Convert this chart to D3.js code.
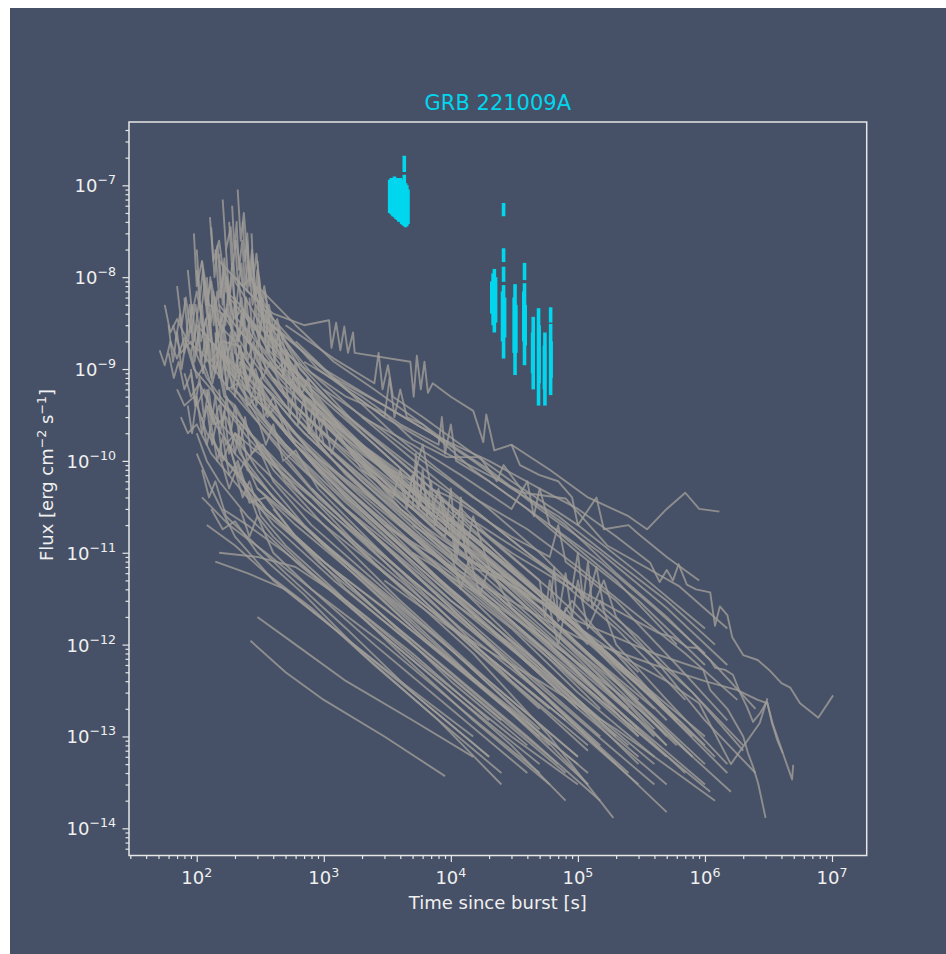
<!DOCTYPE html>
<html>
<head>
<meta charset="utf-8">
<script src="https://cdn.jsdelivr.net/npm/d3@7"></script>
<style>
  html, body { margin: 0; padding: 0; background: #fff; overflow: hidden; }
  #vis { width: 946px; height: 954px; }
  #vis svg { display: block; }
</style>
</head>
<body>
<div id="vis"></div>
<script>
// x-ray light curves of the comparison sample, points are [time since burst s, flux erg/cm2/s]
let brightCurves = [
  [[210,9e-8],[222,2.5e-8],[235,5e-8],[255,1.2e-8],[300,7e-9],[380,3e-9],[520,1.5e-9],[900,6e-10],[2000,2e-10],[6000,5e-11],[2e4,1.2e-11],[7e4,2.5e-12],[3e5,4e-13]],
  [[160,7e-8],[170,2e-8],[185,3.5e-8],[200,9e-9],[240,6e-9],[320,3e-9],[600,8e-10],[1500,2e-10],[5000,4e-11],[2e4,8e-12],[1e5,1e-12],[4e5,2e-13]],
  [[127,4.5e-8],[135,1.5e-8],[150,2.5e-8],[170,7e-9],[220,5e-9],[350,1.8e-9],[700,5e-10],[2500,8e-11],[1e4,1.5e-11],[5e4,2.5e-12],[2e5,4e-13],[8e5,6e-14]],
  [[95,3e-8],[100,8e-9],[110,1.5e-8],[125,5e-9],[160,4e-9],[250,1.5e-9],[500,4e-10],[1500,7e-11],[6000,1.2e-11],[3e4,1.8e-12],[1.5e5,2.5e-13]],
  [[270,3e-8],[280,1e-8],[295,1.8e-8],[320,6e-9],[380,4e-9],[500,2e-9],[800,9e-10],[2000,3e-10],[8000,6e-11],[4e4,1e-11],[2e5,1.5e-12],[7e5,2.5e-13]],
  [[180,4e-8],[190,1.2e-8],[205,2.5e-8],[230,8e-9],[270,1e-8],[320,4e-9],[450,2.5e-9],[700,1e-9],[1800,2.5e-10],[7000,5e-11],[3e4,7e-12],[1.2e5,1e-12]],
  [[140,2e-8],[150,6e-9],[165,1.2e-8],[190,4e-9],[260,2.5e-9],[420,1e-9],[900,3e-10],[3000,5e-11],[1.2e4,8e-12],[5e4,1.5e-12],[2.5e5,2e-13]],
  [[110,1.5e-8],[118,5e-9],[130,9e-9],[150,3e-9],[200,2e-9],[300,8e-10],[600,2.5e-10],[2000,5e-11],[8000,1e-11],[4e4,1.5e-12],[2e5,2e-13],[1e6,3e-14]],
  [[240,2e-8],[250,7e-9],[262,1.3e-8],[290,5e-9],[340,3.5e-9],[480,1.2e-9],[900,4e-10],[2500,1e-10],[1e4,2e-11],[5e4,3e-12],[2.5e5,5e-13],[1e6,1e-13]],
  [[200,2.5e-8],[212,8e-9],[225,1.4e-8],[245,4e-9],[290,3e-9],[400,1.2e-9],[1000,3e-10],[4000,6e-11],[2e4,1e-11],[1e5,1.5e-12],[5e5,2e-13]],
  [[300,1.5e-8],[320,5e-9],[340,8e-9],[380,3e-9],[450,2.5e-9],[650,1e-9],[1200,4e-10],[4000,1e-10],[1.5e4,2e-11],[6e4,4e-12],[3e5,5e-13]],
  [[85,1.2e-8],[92,4e-9],[100,7e-9],[115,2.5e-9],[150,1.5e-9],[250,6e-10],[600,1.5e-10],[2000,3e-11],[8000,5e-12],[4e4,8e-13],[1.5e5,1.5e-13]],
  [[150,1.8e-8],[160,5e-9],[172,1e-8],[195,3.5e-9],[230,4.5e-9],[300,2e-9],[550,7e-10],[1200,2.5e-10],[5000,5e-11],[2.5e4,8e-12],[1.2e5,1.2e-12],[6e5,1.5e-13]],
  [[120,1e-8],[128,3e-9],[140,6e-9],[160,2e-9],[210,1.8e-9],[320,7e-10],[700,2e-10],[2500,4e-11],[1e4,7e-12],[6e4,1e-12],[3e5,1.2e-13]]
];

// flaring early light curves that fill the bright core
let flareCurves = [
  [[60,3e-9],[65,1.2e-9],[70,2.5e-9],[76,1e-9],[82,2e-9],[90,1.5e-9],[100,3e-9],[108,1.2e-9],[118,2.2e-9],[130,8e-10],[145,1.5e-9],[170,5e-10],[220,3e-10],[400,8e-11],[1000,2e-11],[4000,3e-12],[2e4,4e-13],[1e5,6e-14]],
  [[68,2e-9],[74,4e-9],[80,1.5e-9],[88,5e-9],[95,2e-9],[105,6e-9],[112,2.5e-9],[122,4e-9],[135,1.5e-9],[150,2.5e-9],[180,1e-9],[250,5e-10],[500,1.5e-10],[1500,3e-11],[6000,5e-12],[3e4,7e-13],[1.5e5,1e-13]],
  [[100,2e-8],[106,6e-9],[112,1.2e-8],[120,4e-9],[128,1e-8],[136,3e-9],[145,7e-9],[160,2.5e-9],[175,5e-9],[200,1.5e-9],[260,1e-9],[400,4e-10],[900,1e-10],[3000,2e-11],[1.2e4,3e-12],[6e4,4e-13],[3e5,6e-14]],
  [[130,3.5e-8],[138,1e-8],[146,2.2e-8],[155,6e-9],[165,1.6e-8],[178,5e-9],[190,1e-8],[205,3.5e-9],[225,6e-9],[250,2e-9],[300,1.5e-9],[450,6e-10],[1000,1.5e-10],[3000,4e-11],[1.2e4,7e-12],[5e4,1.2e-12],[2e5,2e-13]],
  [[190,6e-8],[198,2e-8],[206,4e-8],[215,1.2e-8],[228,2.5e-8],[240,8e-9],[255,1.5e-8],[275,5e-9],[300,8e-9],[340,3e-9],[420,2e-9],[700,7e-10],[1500,2e-10],[5000,4e-11],[2e4,6e-12],[1e5,8e-13],[4e5,1.2e-13]],
  [[230,4e-8],[240,1.5e-8],[250,3e-8],[262,8e-9],[275,1.8e-8],[290,6e-9],[310,1e-8],[335,3.5e-9],[370,5e-9],[420,2e-9],[600,1e-9],[1200,3e-10],[4000,6e-11],[1.5e4,1.2e-11],[6e4,2e-12],[3e5,2.5e-13]],
  [[250,2.5e-8],[260,1e-8],[272,2e-8],[285,6e-9],[300,1.2e-8],[320,4e-9],[345,7e-9],[380,2.5e-9],[430,3.5e-9],[520,1.2e-9],[800,5e-10],[2000,1.3e-10],[7000,2.5e-11],[3e4,4e-12],[1.5e5,5e-13],[6e5,8e-14]],
  [[80,6e-9],[86,2e-9],[92,5e-9],[100,1.5e-9],[108,4e-9],[118,1.2e-9],[128,3e-9],[140,9e-10],[155,2e-9],[175,6e-10],[210,7e-10],[300,3e-10],[700,8e-11],[2500,1.5e-11],[1e4,2.5e-12],[5e4,3e-13],[2e5,5e-14]],
  [[110,5e-9],[118,1.5e-9],[126,4e-9],[135,1e-9],[145,3e-9],[158,8e-10],[170,2e-9],[190,6e-10],[220,1.2e-9],[280,4e-10],[400,2e-10],[1000,5e-11],[4000,8e-12],[1.5e4,1.5e-12],[8e4,2e-13],[4e5,3e-14]],
  [[160,1e-8],[168,3e-9],[178,8e-9],[190,2.5e-9],[200,6e-9],[215,2e-9],[230,4e-9],[250,1.2e-9],[280,2e-9],[330,8e-10],[500,4e-10],[1200,1e-10],[4000,2e-11],[2e4,3e-12],[1e5,4e-13],[5e5,6e-14]],
  [[90,1e-9],[97,4e-10],[105,8e-10],[114,3e-10],[124,6e-10],[135,2.5e-10],[150,4e-10],[170,1.5e-10],[200,2e-10],[300,8e-11],[700,2e-11],[2500,4e-12],[1e4,7e-13],[5e4,1e-13]],
  [[120,6e-10],[130,2.5e-10],[140,5e-10],[152,2e-10],[165,3.5e-10],[180,1.2e-10],[200,2e-10],[250,8e-11],[500,3e-11],[1500,7e-12],[6000,1.2e-12],[3e4,2e-13],[1.2e5,4e-14]],
  [[140,2.5e-9],[150,8e-10],[160,2e-9],[172,6e-10],[185,1.5e-9],[200,5e-10],[220,1e-9],[250,4e-10],[300,5e-10],[500,2e-10],[1200,5e-11],[5000,8e-12],[2e4,1.5e-12],[1e5,2e-13],[5e5,3e-14]],
  [[200,5e-9],[212,2e-9],[225,4e-9],[240,1.4e-9],[255,3e-9],[275,1e-9],[300,2e-9],[330,8e-10],[380,1.2e-9],[500,5e-10],[1000,2e-10],[3000,6e-11],[1e4,1.5e-11],[4e4,3e-12],[2e5,4e-13],[8e5,6e-14]],
  [[300,6e-9],[315,2.5e-9],[330,5e-9],[350,2e-9],[370,4e-9],[400,1.5e-9],[440,2.5e-9],[500,1e-9],[700,6e-10],[1500,2e-10],[4000,7e-11],[1.5e4,1.5e-11],[6e4,3e-12],[3e5,4e-13],[1e6,8e-14]],
  [[350,4e-9],[370,1.5e-9],[390,3e-9],[410,1.2e-9],[440,2.5e-9],[480,8e-10],[520,1.5e-9],[600,6e-10],[900,4e-10],[2000,1.5e-10],[6000,4e-11],[2e4,1e-11],[8e4,2e-12],[4e5,2.5e-13],[1.5e6,4e-14]],
  [[450,2e-9],[480,8e-10],[510,1.6e-9],[550,6e-10],[600,1.2e-9],[660,5e-10],[750,8e-10],[900,3e-10],[1500,1.5e-10],[4000,5e-11],[1.2e4,1.5e-11],[5e4,3e-12],[2e5,6e-13],[8e5,1e-13]],
  [[500,8e-10],[540,3e-10],[580,6e-10],[630,2.5e-10],[700,5e-10],[780,2e-10],[880,3.5e-10],[1000,1.5e-10],[2000,6e-11],[6000,1.5e-11],[2e4,4e-12],[8e4,8e-13],[3e5,1.5e-13]],
  [[700,5e-10],[760,2e-10],[820,4e-10],[900,1.5e-10],[1000,3e-10],[1150,1.2e-10],[1300,2e-10],[2000,8e-11],[5000,3e-11],[1.5e4,8e-12],[6e4,1.5e-12],[2.5e5,3e-13],[1e6,5e-14]],
  [[60,1.5e-9],[66,8e-10],[72,1.2e-9],[80,6e-10],[90,9e-10],[100,4e-10],[115,6e-10],[140,2.5e-10],[200,1.2e-10],[400,4e-11],[1200,1e-11],[5000,1.8e-12],[2e4,3e-13],[1e5,5e-14]],
  [[130,5e-9],[150,3e-9],[170,4.5e-9],[200,2e-9],[240,2.8e-9],[300,1.2e-9],[500,5e-10],[1200,1.5e-10],[4000,3e-11],[1.5e4,6e-12],[6e4,1e-12],[3e5,1.5e-13]],
  [[180,2e-9],[200,1e-9],[220,1.8e-9],[250,7e-10],[290,1e-9],[350,4e-10],[600,1.5e-10],[1500,4e-11],[5000,9e-12],[2e4,1.5e-12],[1e5,2e-13]],
  [[240,1e-9],[270,5e-10],[300,8e-10],[340,3e-10],[400,5e-10],[500,2e-10],[900,8e-11],[3000,1.8e-11],[1e4,4e-12],[5e4,6e-13],[2e5,1e-13]],
  [[70,8e-9],[76,3e-9],[82,6e-9],[90,2.5e-9],[98,5e-9],[108,2e-9],[118,3.5e-9],[130,1.2e-9],[150,1.6e-9],[200,6e-10],[350,2e-10],[800,5e-11],[3000,8e-12],[1.2e4,1.2e-12],[5e4,2e-13]],
  [[100,1.2e-8],[108,4e-9],[116,9e-9],[125,3e-9],[135,7e-9],[146,2e-9],[158,4e-9],[175,1.5e-9],[200,2.5e-9],[240,9e-10],[350,5e-10],[700,1.5e-10],[2000,4e-11],[8000,7e-12],[3e4,1.2e-12],[1.5e5,1.5e-13]],
  [[85,4e-10],[92,2e-10],[100,5e-10],[110,2e-10],[120,4e-10],[132,1.5e-10],[145,3e-10],[160,1e-10],[180,1.5e-10],[220,6e-11],[400,2e-11],[1200,5e-12],[5000,1e-12],[2e4,2e-13],[8e4,4e-14]],
  [[150,6e-10],[160,2.5e-10],[172,5e-10],[185,2e-10],[200,4e-10],[220,1.5e-10],[240,3e-10],[270,1.2e-10],[330,1.5e-10],[500,6e-11],[1200,2e-11],[4000,5e-12],[1.5e4,1e-12],[6e4,2e-13]],
  [[200,2e-9],[215,8e-10],[230,1.5e-9],[250,6e-10],[270,1.2e-9],[295,4e-10],[320,8e-10],[360,3e-10],[420,4e-10],[600,1.5e-10],[1500,5e-11],[5000,1.2e-11],[2e4,2.5e-12],[8e4,5e-13],[3e5,1e-13]],
  [[260,6e-9],[275,2.5e-9],[290,5e-9],[310,2e-9],[330,4e-9],[355,1.5e-9],[380,2.5e-9],[420,1e-9],[500,1.2e-9],[700,5e-10],[1500,2e-10],[4000,6e-11],[1.5e4,1.5e-11],[6e4,3e-12],[2.5e5,5e-13]],
  [[90,3e-9],[96,1.2e-9],[103,2.5e-9],[112,9e-10],[122,2e-9],[133,7e-10],[145,1.2e-9],[165,5e-10],[200,4e-10],[300,1.5e-10],[700,4e-11],[2000,1e-11],[8000,2e-12],[3e4,4e-13],[1.2e5,8e-14]],
  [[110,3e-10],[120,1.5e-10],[130,2.5e-10],[145,1e-10],[160,1.8e-10],[180,7e-11],[210,1e-10],[260,4e-11],[400,2.5e-11],[1000,8e-12],[3000,2e-12],[1e4,4e-13],[4e4,8e-14]],
  [[170,2e-8],[180,6e-9],[190,1.4e-8],[202,4e-9],[215,9e-9],[230,3e-9],[245,6e-9],[265,2e-9],[290,3e-9],[350,1e-9],[600,4e-10],[1500,1.2e-10],[5000,3e-11],[2e4,5e-12],[1e5,7e-13],[4e5,1e-13]],
  [[140,4e-9],[150,1.5e-9],[160,3e-9],[172,1e-9],[185,2.5e-9],[200,8e-10],[220,1.8e-9],[245,6e-10],[275,1e-9],[330,4e-10],[600,1.5e-10],[1500,4e-11],[5000,9e-12],[2e4,1.8e-12],[8e4,3e-13],[3e5,5e-14]]
];

let earlyCurves = [
  [[51,1.6e-9],[56,1.1e-9],[62,2e-9],[70,1.3e-9],[80,2.2e-9],[95,1e-9],[130,6e-10],[250,1.8e-10],[700,4e-11],[3000,6e-12],[1.5e4,1e-12],[8e4,1.5e-13]],
  [[56,5e-9],[62,2.5e-9],[70,3.5e-9],[85,2e-9],[110,1.5e-9],[180,6e-10],[500,1.2e-10],[2000,2e-11],[1e4,3e-12],[5e4,5e-13]],
  [[65,3e-9],[75,1.5e-9],[90,2e-9],[120,8e-10],[200,3e-10],[600,6e-11],[2500,1e-11],[1.2e4,1.5e-12],[6e4,2.5e-13]],
  [[75,3e-10],[85,2e-10],[100,2.5e-10],[130,1.2e-10],[250,4e-11],[800,1e-11],[3000,2.5e-12],[1.5e4,4e-13],[6e4,8e-14]],
  [[80,9e-10],[90,5e-10],[105,7e-10],[140,3e-10],[250,1.2e-10],[700,3e-11],[3000,6e-12],[1.5e4,1e-12],[8e4,1.5e-13],[3e5,3e-14]],
  [[100,2e-10],[120,1e-10],[150,6e-11],[250,2.5e-11],[600,8e-12],[2000,2e-12],[1e4,3e-13],[5e4,5e-14]],
  [[100,1.2e-10],[130,5e-11],[200,1.5e-11],[400,5e-12],[1200,1.5e-12],[5000,3e-13],[2e4,6e-14]],
  [[130,2e-10],[150,1.2e-10],[200,8e-11],[350,3e-11],[900,8e-12],[3000,2e-12],[1.5e4,3e-13],[7e4,5e-14]],
  [[120,4e-10],[140,2.5e-10],[170,3e-10],[220,1.2e-10],[400,4e-11],[1000,1.2e-11],[4000,2.5e-12],[2e4,4e-13],[1e5,6e-14]],
  [[90,1.5e-9],[100,8e-10],[115,1.1e-9],[140,5e-10],[200,3e-10],[400,1e-10],[1200,2.5e-11],[5000,5e-12],[3e4,6e-13],[1.5e5,8e-14]],
  [[70,6e-10],[80,4e-10],[95,5e-10],[120,2e-10],[180,9e-11],[350,3e-11],[1000,8e-12],[4000,1.8e-12],[2e4,3e-13]],
  [[180,3e-10],[200,1.2e-10],[220,2.5e-10],[250,1e-10],[300,1.5e-10],[400,6e-11],[800,2e-11],[3000,4e-12],[1.2e4,7e-13],[5e4,1.2e-13]],
  [[150,1.2e-10],[180,5e-11],[210,9e-11],[260,3.5e-11],[350,4e-11],[600,1.5e-11],[1500,4e-12],[6000,8e-13],[2.5e4,1.5e-13]],
  [[300,3e-10],[350,1.5e-10],[400,2.5e-10],[480,1e-10],[600,1.3e-10],[900,5e-11],[2500,1.2e-11],[8000,2.5e-12],[3e4,4e-13],[1.2e5,7e-14]],
  [[110,8e-11],[125,4e-11],[140,6e-11],[170,2.5e-11],[250,1.5e-11],[500,6e-12],[1500,1.5e-12],[5000,3e-13],[2e4,6e-14]],
  [[180,1.5e-10],[210,7e-11],[240,1e-10],[300,5e-11],[600,2e-11],[2000,5e-12],[7000,1e-12],[3e4,1.8e-13],[1.2e5,3e-14]],
  [[200,8e-11],[230,4e-11],[260,6e-11],[320,2.5e-11],[500,1.2e-11],[1200,4e-12],[4000,8e-13],[1.5e4,1.5e-13],[6e4,3e-14]]
];

let faintCurves = [
  [[150,1e-11],[300,9e-12],[600,7e-12],[1500,3e-12],[5000,8e-13],[2e4,1.5e-13]],
  [[140,8e-12],[250,6e-12],[500,4e-12],[1200,1.5e-12],[4000,4e-13],[1.5e4,1e-13]],
  [[265,1.1e-12],[500,5e-13],[1000,2.5e-13],[3000,1e-13],[9000,3.7e-14]],
  [[300,2e-12],[600,1e-12],[1500,4e-13],[5000,1.5e-13],[1.5e4,6e-14]],
  [[160,3e-11],[250,2e-11],[500,1e-11],[1500,3e-12],[6000,6e-13],[3e4,1e-13],[1e5,3e-14]],
  [[110,4e-11],[180,2e-11],[350,1e-11],[800,4e-12],[3000,1e-12],[1.2e4,2e-13],[5e4,4e-14]],
  [[200,2e-10],[800,4e-11],[3000,6e-12],[1.5e4,8e-13],[6e4,1e-13],[1.9e5,1.3e-14]],
  [[300,5e-11],[1500,8e-12],[8000,1.2e-12],[4e4,1.5e-13],[1.2e5,3e-14]],
  [[500,2e-10],[3000,3e-11],[2e4,3e-12],[1e5,4e-13],[4e5,8e-14],[1.1e6,2.5e-14]],
  [[220,3e-11],[260,1.5e-11],[300,2.5e-11],[400,1e-11],[800,4e-12],[2500,1e-12],[1e4,2e-13],[4e4,4e-14]],
  [[130,3e-11],[160,1.8e-11],[200,2.2e-11],[300,1e-11],[700,3.5e-12],[2000,8e-13],[8000,1.5e-13],[2.5e4,3e-14]],
  [[250,5e-11],[300,2.5e-11],[400,1.5e-11],[800,6e-12],[2500,1.5e-12],[8000,4e-13],[3e4,8e-14],[8e4,2e-14]],
  [[400,3e-11],[600,1.5e-11],[1000,8e-12],[3000,2e-12],[1e4,5e-13],[4e4,1e-13],[1.5e5,2e-14]],
  [[120,2e-11],[200,1.2e-11],[350,6e-12],[800,2.5e-12],[2500,6e-13],[8000,1.5e-13],[2.5e4,4e-14]],
  [[500,1e-10],[900,4e-11],[2000,1.5e-11],[6000,4e-12],[2e4,1e-12],[7e4,2e-13],[2.5e5,4e-14]],
  [[800,5e-11],[2000,1.5e-11],[5000,5e-12],[1.5e4,1.5e-12],[5e4,3e-13],[2e5,5e-14],[5e5,1.5e-14]],
  [[1500,3e-11],[4000,1e-11],[1e4,3e-12],[3e4,1e-12],[1e5,2.5e-13],[4e5,5e-14]],
  [[3000,5e-12],[1e4,1.5e-12],[5e4,4e-13],[2e5,1.2e-13],[6e5,4e-14],[1.2e6,2e-14]],
  [[5000,1e-11],[2e4,3e-12],[8e4,8e-13],[3e5,2e-13],[8e5,6e-14],[1.6e6,2.5e-14]]
];

let midCurves = [
  [[200,3e-9],[400,1e-9],[800,4e-10],[2000,1.2e-10],[4000,6e-11],[4500,3e-11],[5000,7e-11],[5500,3e-11],[6000,6e-11],[7000,2.5e-11],[8000,5e-11],[9000,2e-11],[1.2e4,3e-11],[2e4,1.5e-11],[5e4,5e-12],[5.5e4,2e-12],[6e4,5e-12],[7e4,1.8e-12],[9e4,3e-12],[2e5,8e-13],[6e5,1.5e-13]],
  [[150,5e-9],[300,1.5e-9],[700,4e-10],[2000,1e-10],[3500,4e-11],[4000,8e-11],[4500,3.5e-11],[5000,7e-11],[6000,3e-11],[1e4,2e-11],[1.1e4,8e-12],[1.2e4,1.8e-11],[1.4e4,7e-12],[2e4,6e-12],[6e4,1.5e-12],[2e5,3e-13],[5e5,8e-14]],
  [[250,2e-9],[600,6e-10],[1500,1.5e-10],[4000,3e-11],[1e4,1e-11],[1.2e4,4e-12],[1.4e4,9e-12],[1.7e4,3.5e-12],[2e4,7e-12],[3e4,2.5e-12],[1e5,5e-13],[3e5,1e-13]],
  [[180,6e-9],[350,2e-9],[800,6e-10],[2500,1.5e-10],[6000,5e-11],[1e4,2.5e-11],[1.1e4,1e-11],[1.2e4,2.2e-11],[1.5e4,8e-12],[3e4,5e-12],[6e4,2.5e-12],[7e4,1e-12],[8e4,2.5e-12],[1.5e5,8e-13],[5e5,2e-13],[1.2e6,6e-14]],
  [[130,2e-9],[250,8e-10],[600,2e-10],[1500,6e-11],[5000,1.5e-11],[1.5e4,4e-12],[5e4,1e-12],[2e5,2e-13],[7e5,4e-14]],
  [[400,8e-10],[900,3e-10],[2500,1e-10],[5000,6e-11],[6000,1.5e-10],[7000,5e-11],[1e4,4e-11],[3e4,1.5e-11],[6e4,9e-12],[7e4,2e-11],[8e4,8e-12],[2e5,3e-12],[6e5,6e-13],[1.5e6,1.5e-13]],
  [[100,3e-9],[200,1e-9],[500,2.5e-10],[1500,5e-11],[4000,1.5e-11],[1e4,5e-12],[3e4,1.5e-12],[1e5,3e-13],[4e5,6e-14]],
  [[200,6e-10],[500,1.5e-10],[1500,3.5e-11],[5000,8e-12],[2e4,1.5e-12],[8e4,3e-13],[2.5e5,8e-14]],
  [[300,4e-9],[700,1.5e-9],[1500,6e-10],[3500,2e-10],[8000,8e-11],[2e4,3e-11],[5e4,1e-11],[1.2e5,3e-12],[1.4e5,7e-12],[1.6e5,2.5e-12],[3e5,1.2e-12],[8e5,3e-13],[2e6,7e-14]],
  [[600,2e-9],[1500,6e-10],[3000,3e-10],[3300,8e-10],[3600,3e-10],[4000,6e-10],[4500,3e-10],[6000,2.5e-10],[1.5e4,8e-11],[4e4,3e-11],[1e5,1e-11],[3e5,3e-12],[1e6,6e-13]],
  [[220,1.2e-9],[600,3e-10],[2000,6e-11],[8000,1.2e-11],[3e4,2.5e-12],[1.2e5,5e-13],[5e5,8e-14]],
  [[170,1e-9],[400,3e-10],[1000,8e-11],[3000,2e-11],[1e4,6e-12],[4e4,1.2e-12],[1.5e5,2e-13]],
  [[1500,1.5e-10],[3000,6e-11],[5000,3e-11],[5300,1.2e-10],[5600,3e-11],[6000,8e-11],[6500,2.5e-11],[7000,6e-11],[7500,2e-11],[8500,4e-11],[1e4,1.5e-11],[2e4,8e-12],[5e4,3e-12],[1.5e5,8e-13],[5e5,1.5e-13]],
  [[2000,1e-10],[4000,4e-11],[9000,1.5e-11],[1e4,5e-11],[1.1e4,1.2e-11],[1.2e4,4e-11],[1.3e4,1e-11],[1.5e4,2.5e-11],[2e4,7e-12],[5e4,2.5e-12],[1.5e5,6e-13],[5e5,1e-13]],
  [[5000,2e-11],[2e4,6e-12],[6e4,2.5e-12],[6.5e4,7e-12],[7e4,2e-12],[8e4,6e-12],[9e4,2e-12],[1e5,5e-12],[1.2e5,1.5e-12],[1.5e5,3e-12],[2e5,1e-12],[5e5,2.5e-13],[1.5e6,5e-14]],
  [[1e4,3e-11],[3e4,1e-11],[9e4,4e-12],[1e5,1e-11],[1.1e5,3e-12],[1.2e5,8e-12],[1.3e5,2.5e-12],[1.6e5,5e-12],[2e5,2e-12],[4e5,7e-13],[1e6,1.5e-13],[2.5e6,4e-14]],
  [[400,1.5e-9],[1000,5e-10],[2500,1.8e-10],[6000,7e-11],[1.5e4,3e-11],[4e4,1e-11],[1e5,4e-12],[3e5,1e-12],[8e5,3e-13],[2e6,8e-14]],
  [[1000,6e-10],[2500,2.5e-10],[6000,1e-10],[1.5e4,4e-11],[4e4,1.8e-11],[1e5,7e-12],[2.5e5,2.5e-12],[7e5,8e-13],[1.8e6,2.5e-13]],
  [[300,8e-9],[600,3e-9],[1200,1.2e-9],[2500,6e-10],[5000,3e-10],[1e4,1.5e-10],[2e4,8e-11],[5e4,3e-11],[1.5e5,1e-11],[5e5,2.5e-12],[1.5e6,6e-13]],
  [[500,3e-9],[1200,1.3e-9],[2500,7e-10],[2700,1.5e-9],[2900,6e-10],[3200,1.1e-9],[3500,5e-10],[6000,3e-10],[1.2e4,1.5e-10],[3e4,6e-11],[1e5,2e-11],[3e5,6e-12],[1e6,1.5e-12]],
  [[1200,8e-10],[3000,4e-10],[7000,2e-10],[1.5e4,1e-10],[3e4,5e-11],[7e4,2.5e-11],[2e5,8e-12],[5e5,3e-12],[1.2e6,1e-12]],
  [[700,1.2e-9],[2000,5e-10],[4000,2.5e-10],[8000,1.5e-10],[8500,3e-10],[9000,1.2e-10],[1e4,2.5e-10],[1.1e4,1e-10],[2e4,6e-11],[6e4,2e-11],[2e5,5e-12],[6e5,1e-12]],
  [[2000,3e-10],[5000,1.5e-10],[1.2e4,7e-11],[3e4,3e-11],[4e4,6e-11],[4.5e4,2.5e-11],[5e4,5e-11],[6e4,2e-11],[1.5e5,8e-12],[4e5,2.5e-12],[1e6,8e-13]]
];

let lateCurves = [
  [[150,1.5e-8],[250,7e-9],[400,4e-9],[700,3e-9],[1100,3.4e-9],[1150,1.7e-9],[1250,3.2e-9],[1350,1.6e-9],[1450,2.9e-9],[1550,1.5e-9],[1700,2.5e-9],[1750,1.5e-9],[4800,1.2e-9],[5100,5e-10],[5400,1.4e-9],[5800,6e-10],[6200,1.2e-9],[6600,5.5e-10],[7200,7e-10],[1e4,5e-10],[1.5e4,3.5e-10],[1.8e4,1.6e-10],[1.9e4,3.2e-10],[2.2e4,1.3e-10],[3e4,1.5e-10],[3.5e4,9e-11],[5e4,7e-11],[7e4,6e-11],[9e4,4e-11],[1e5,2e-11],[1.4e5,4e-11],[1.6e5,1.8e-11],[2.5e5,2e-11],[3e5,1.6e-11],[5e5,9e-12],[9e5,5e-12]],
  [[300,3e-9],[600,1.2e-9],[1500,5e-10],[3000,3.3e-10],[5000,1.7e-10],[9300,1.1e-10],[1.7e4,1.1e-10],[2.3e4,6e-11],[2.6e4,9e-11],[4e4,4e-11],[8e4,2e-11],[2e5,6e-12],[5e5,2e-12],[1.2e6,6e-13],[2.5e6,2e-13]],
  [[200,1e-8],[400,3.5e-9],[900,1e-9],[3000,3e-10],[9300,1.2e-10],[3.7e4,4.5e-11],[8e4,3.9e-11],[1.7e5,1.2e-11],[6.3e5,4.3e-12],[1.5e6,1.5e-12]],
  [[400,3e-9],[1000,1e-9],[3000,4e-10],[8000,1.8e-10],[2e4,1e-10],[5e4,5e-11],[1e5,3e-11],[2e5,1.5e-11],[3.7e5,7.8e-12],[4.4e5,4.8e-12],[5e5,6.5e-12],[5.6e5,5e-12],[6.2e5,7.5e-12],[7.2e5,4.5e-12],[8.5e5,4e-12],[1.1e6,3.7e-12],[1.2e6,1.6e-12],[1.31e6,2.6e-12],[1.5e6,2.1e-12],[1.64e6,1.2e-12],[2e6,7.7e-13],[2.6e6,6.8e-13],[3.2e6,5.3e-13],[4e6,3.8e-13],[4.7e6,3.4e-13],[5.6e6,2.3e-13],[7.8e6,1.6e-13],[1.02e7,2.8e-13]],
  [[1000,3e-10],[5000,6e-11],[3e4,1.2e-11],[1e5,4e-12],[2.5e5,2e-12],[4.3e5,1.34e-12],[5.6e5,1.2e-12],[7.2e5,9.4e-13],[8.7e5,9.2e-13],[1.1e6,6.8e-13],[1.2e6,5.6e-13],[1.44e6,5.3e-13],[1.66e6,4.7e-13],[1.89e6,3e-13],[2.14e6,2.1e-13],[2.39e6,1.44e-13],[2.72e6,1.8e-13],[3.08e6,2.4e-13],[3.37e6,1.4e-13],[3.7e6,9.2e-14],[4.1e6,6.6e-14],[4.85e6,3.4e-14],[4.95e6,4.9e-14]],
  [[800,2e-10],[4000,3e-11],[2e4,6e-12],[1e5,1.8e-12],[4e5,8e-13],[9.7e5,5.3e-13],[1.1e6,3.2e-13],[1.5e6,2e-13],[2e6,1e-13],[2.18e6,6.6e-14],[2.39e6,4.7e-14],[2.62e6,3.1e-14],[3e6,1.3e-14]],
  [[2000,8e-11],[1e4,1.5e-11],[5e4,3e-12],[2e5,8e-13],[5e5,4e-13],[9e5,2.3e-13],[1.6e6,5e-14],[2.7e6,1.4e-13],[3.1e6,2.6e-13]],
  [[3000,2e-11],[2e4,4e-12],[1e5,1.2e-12],[4e5,6e-13],[1e6,4e-13],[1.8e6,3.2e-13],[2.6e6,2.5e-13],[3.1e6,2.3e-13],[3.4e6,1.4e-13],[4.1e6,6.6e-14]],
  [[3e4,1.5e-10],[6e4,8e-11],[1.2e5,4e-11],[2.5e5,2.5e-11],[3.5e5,1.8e-11],[5e5,3e-11],[7e5,4.5e-11],[9e5,3e-11],[1.3e6,2.8e-11]]
];

// GRB 221009A: observation times and the low / high ends of each flux error bar
let grbTime = [3300, 3400, 3500, 3600, 3700, 3800, 3900, 4000, 4100, 4200, 4300, 4300, 4400, 4500, 4600,
  2.1e4, 2.15e4, 2.2e4, 2.25e4, 2.6e4, 2.6e4, 2.6e4, 2.55e4, 2.6e4, 2.65e4,
  3.15e4, 3.2e4, 3.25e4, 3.8e4, 3.75e4, 3.8e4, 3.85e4, 4.45e4, 4.4e4, 4.9e4, 4.95e4,
  5.5e4, 5.45e4, 6.1e4, 6.1e4, 6.15e4];
let grbLow = [5e-8, 4.8e-8, 4.6e-8, 4.5e-8, 4.3e-8, 4.2e-8, 4e-8, 4e-8, 3.8e-8, 3.7e-8, 3.6e-8, 1.4e-7, 3.5e-8, 3.6e-8, 3.8e-8,
  4e-9, 3e-9, 2.5e-9, 3.2e-9, 4.6e-8, 1.46e-8, 8.9e-9, 2e-9, 1.3e-9, 2.2e-9,
  1.5e-9, 8.6e-10, 1.5e-9, 9.3e-9, 2e-9, 1.1e-9, 1.8e-9, 6e-10, 9e-10, 4e-10, 7e-10,
  4e-10, 6e-10, 3.2e-9, 5.2e-10, 8e-10];
let grbHigh = [1.15e-7, 1.2e-7, 1.1e-7, 1.25e-7, 1.15e-7, 1.2e-7, 1.1e-7, 1.2e-7, 1.15e-7, 1.1e-7, 1.3e-7, 2.1e-7, 1.05e-7, 1e-7, 9e-8,
  9e-9, 1.1e-8, 1.23e-8, 1e-8, 6.4e-8, 2.07e-8, 1.3e-8, 7e-9, 8.2e-9, 6e-9,
  6e-9, 8.4e-9, 5e-9, 1.43e-8, 7e-9, 8.6e-9, 5e-9, 3.7e-9, 2.5e-9, 4.6e-9, 3e-9,
  2.5e-9, 1.8e-9, 4.7e-9, 3.1e-9, 2e-9];

// decade exponents of the labelled ticks
let xTickExp = [2, 3, 4, 5, 6, 7];
let yTickExp = [-14, -13, -12, -11, -10, -9, -8, -7];

let bgColor = '#465066',
  axisColor = '#e6e6e6',
  grbColor = '#00d6ee',
  font = '"DejaVu Sans", sans-serif';

let margin = {
    top   : 122,
    left  : 129,
    right : 79.3,
    bottom: 98.5
  },
  width  = 946 - margin.left - margin.right,
  height = 954 - margin.top - margin.bottom;

let svg = d3.select('#vis')
  .append('svg')
    .attr('width', 946)
    .attr('height', 954);

// the figure sits a few pixels in from the top left corner
svg.append('rect')
    .attr('x', 10)
    .attr('y', 8)
    .attr('width', 936)
    .attr('height', 946)
    .attr('fill', bgColor);

let g = svg.append('g')
    .attr('transform', `translate(${margin.left},${margin.top})`);

let x = d3.scaleLog().domain([29.3, 1.875e7]).range([0, width]);
let y = d3.scaleLog().domain([5.06e-15, 4.89e-7]).range([height, 0]);

g.append('clipPath')
    .attr('id', 'plotclip')
  .append('rect')
    .attr('width', width)
    .attr('height', height);

let line = d3.line()
  .x(d => x(d[0]))
  .y(d => y(d[1]));

let allCurves = brightCurves.concat(flareCurves, earlyCurves, faintCurves, midCurves, lateCurves);

g.append('g')
    .attr('clip-path', 'url(#plotclip)')
  .selectAll('path')
  .data(allCurves)
  .join('path')
    .attr('d', line)
    .attr('fill', 'none')
    .attr('stroke', '#a09d98')
    .attr('stroke-opacity', 0.8)
    .attr('stroke-width', 1.9)
    .attr('stroke-linejoin', 'round');

// GRB 221009A error bars
g.append('g')
    .attr('clip-path', 'url(#plotclip)')
  .selectAll('line')
  .data(grbTime)
  .join('line')
    .attr('x1', d => x(d))
    .attr('x2', d => x(d))
    .attr('y1', (d, i) => y(grbLow[i]))
    .attr('y2', (d, i) => y(grbHigh[i]))
    .attr('stroke', grbColor)
    .attr('stroke-width', 3.6);

// minor tick values for each decade
function minorTicks(scale) {
  let [lo, hi] = scale.domain();
  let out = [];
  for (let k = Math.floor(Math.log10(lo)); k <= Math.ceil(Math.log10(hi)); k++) {
    for (let m = 2; m <= 9; m++) {
      let v = m * Math.pow(10, k);
      if (v >= lo && v <= hi) out.push(v);
    }
  }
  return out;
}

function styleAxis(sel) {
  sel.select('.domain').remove();
  sel.selectAll('line').attr('stroke', axisColor).attr('stroke-width', 1.2);
}

g.append('g')
    .attr('transform', `translate(0,${height})`)
    .call(d3.axisBottom(x).tickValues(minorTicks(x)).tickSize(3.5).tickFormat(''))
    .call(styleAxis);
g.append('g')
    .attr('transform', `translate(0,${height})`)
    .call(d3.axisBottom(x).tickValues(xTickExp.map(e => Math.pow(10, e))).tickSize(6.5).tickFormat(''))
    .call(styleAxis);
g.append('g')
    .call(d3.axisLeft(y).tickValues(minorTicks(y)).tickSize(3.5).tickFormat(''))
    .call(styleAxis);
g.append('g')
    .call(d3.axisLeft(y).tickValues(yTickExp.map(e => Math.pow(10, e))).tickSize(6.5).tickFormat(''))
    .call(styleAxis);

// frame round the plot
g.append('rect')
    .attr('width', width)
    .attr('height', height)
    .attr('fill', 'none')
    .attr('stroke', axisColor)
    .attr('stroke-width', 1.5);

// tick labels as 10 with a raised exponent
let xLabels = g.append('g')
  .selectAll('text')
  .data(xTickExp)
  .join('text')
    .attr('x', d => x(Math.pow(10, d)))
    .attr('y', height + 28.5)
    .attr('text-anchor', 'middle')
    .attr('fill', '#f0f0f0')
    .style('font-family', font)
    .style('font-size', '18px');
xLabels.append('tspan').text('10');
xLabels.append('tspan')
    .attr('dy', -7.5)
    .style('font-size', '12.6px')
    .text(d => d);

let yLabels = g.append('g')
  .selectAll('text')
  .data(yTickExp)
  .join('text')
    .attr('x', -13)
    .attr('y', d => y(Math.pow(10, d)) + 7)
    .attr('text-anchor', 'end')
    .attr('fill', '#f0f0f0')
    .style('font-family', font)
    .style('font-size', '18px');
yLabels.append('tspan').text('10');
yLabels.append('tspan')
    .attr('dy', -8)
    .style('font-size', '12.6px')
    .text(d => '\u2212' + Math.abs(d));

// titles
svg.append('text')
    .attr('x', margin.left + width / 2)
    .attr('y', 110)
    .attr('text-anchor', 'middle')
    .attr('fill', grbColor)
    .style('font-family', font)
    .style('font-size', '21px')
    .text('GRB 221009A');

svg.append('text')
    .attr('x', margin.left + width / 2)
    .attr('y', 909)
    .attr('text-anchor', 'middle')
    .attr('fill', '#f0f0f0')
    .style('font-family', font)
    .style('font-size', '18px')
    .text('Time since burst [s]');

let yTitle = svg.append('text')
    .attr('transform', `translate(53,475) rotate(-90)`)
    .attr('text-anchor', 'middle')
    .attr('fill', '#f0f0f0')
    .style('font-family', font)
    .style('font-size', '18px');
yTitle.append('tspan').text('Flux [erg cm');
yTitle.append('tspan').attr('dy', -7).style('font-size', '12.6px').text('\u22122');
yTitle.append('tspan').attr('dy', 7).text(' s');
yTitle.append('tspan').attr('dy', -7).style('font-size', '12.6px').text('\u22121');
yTitle.append('tspan').attr('dy', 7).text(']');
</script>
</body>
</html>
